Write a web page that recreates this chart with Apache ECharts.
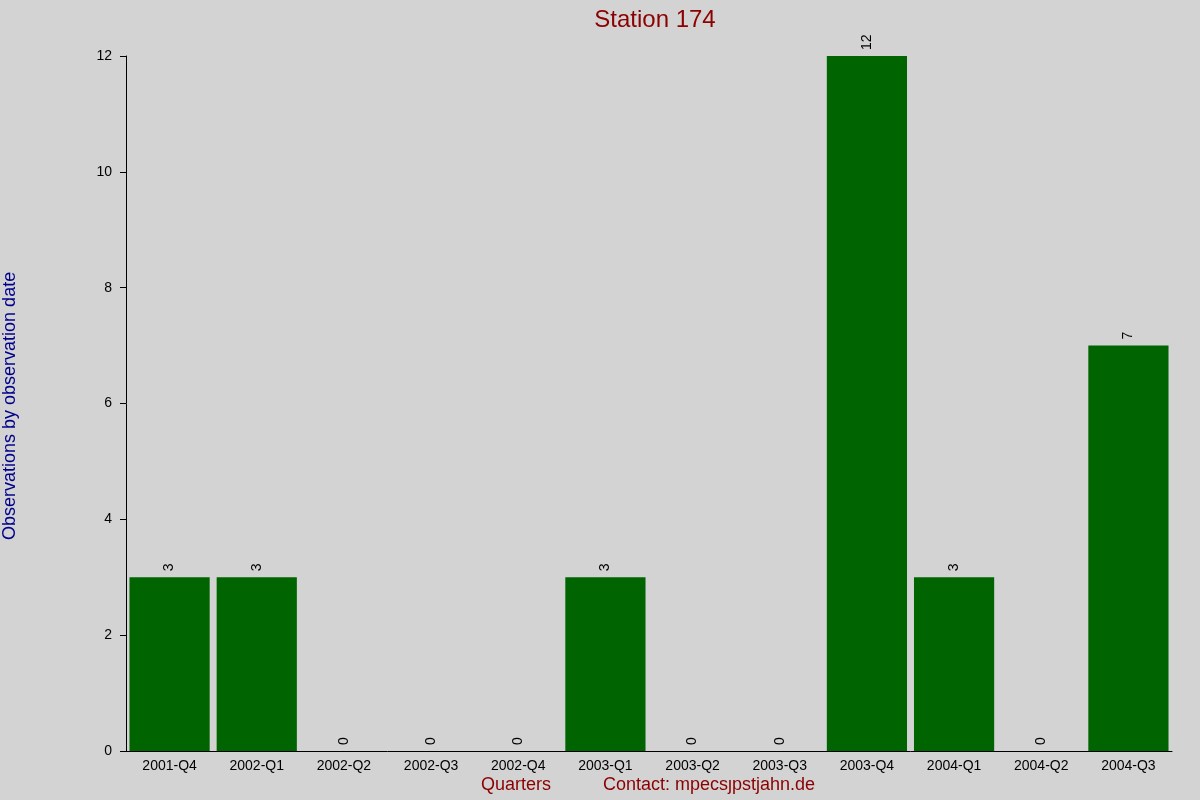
<!DOCTYPE html>
<html><head><meta charset="utf-8">
<script src="https://cdn.jsdelivr.net/npm/echarts@6/dist/echarts.min.js"></script>
<style>html,body{margin:0;background:#d3d3d3}#c{width:1200px;height:800px}</style>
</head><body><div id="c"></div>
<script>
const categories = ['2001-Q4','2002-Q1','2002-Q2','2002-Q3','2002-Q4','2003-Q1','2003-Q2','2003-Q3','2003-Q4','2004-Q1','2004-Q2','2004-Q3'];
const values = [3,3,0,0,0,3,0,0,12,3,0,7];
const yTicks = [0,2,4,6,8,10,12];
const chart = echarts.init(document.getElementById('c'));
const font = 'Liberation Sans, Arial, sans-serif';
chart.setOption({
  backgroundColor: '#d3d3d3',
  animation: false,
  title: { text: 'Station 174', left: 650, top: 3, textAlign: 'center',
    textStyle: { color: '#8b0000', fontSize: 24, fontWeight: 'normal', fontFamily: font } },
  graphic: [
    { type: 'text', left: 481, top: 776, style: { text: 'Quarters', fill: '#8b0000', font: '18px ' + font } },
    { type: 'text', left: 603, top: 776, style: { text: 'Contact: mpecs\u0237pstjahn.de', fill: '#8b0000', font: '18px ' + font } },
    { type: 'text', rotation: Math.PI/2, x: 1, y: 540, style: { text: 'Observations by observation date', fill: '#00008b', font: '18px ' + font } }
  ],
  grid: { left: 126, right: 28, top: 56, bottom: 49 },
  xAxis: { type: 'category', data: categories,
    axisLine: { lineStyle: { color: '#000' } }, axisTick: { show: false },
    axisLabel: { color: '#000', fontSize: 14, fontFamily: font, margin: 8 } },
  yAxis: { type: 'value', min: 0, max: 12, interval: 2,
    axisLine: { show: true, lineStyle: { color: '#000' } },
    axisTick: { show: true, length: 6, lineStyle: { color: '#000' } },
    splitLine: { show: false },
    axisLabel: { color: '#000', fontSize: 14, fontFamily: font, margin: 14,
      formatter: v => yTicks.includes(v) ? String(v) : '' } },
  series: [{ type: 'bar', data: values, barCategoryGap: '8%',
    itemStyle: { color: '#006400' },
    label: { show: true, position: 'top', rotate: 90, align: 'left', verticalAlign: 'middle', distance: 6,
      color: '#000', fontSize: 14, fontFamily: font } }]
});
</script></body></html>
